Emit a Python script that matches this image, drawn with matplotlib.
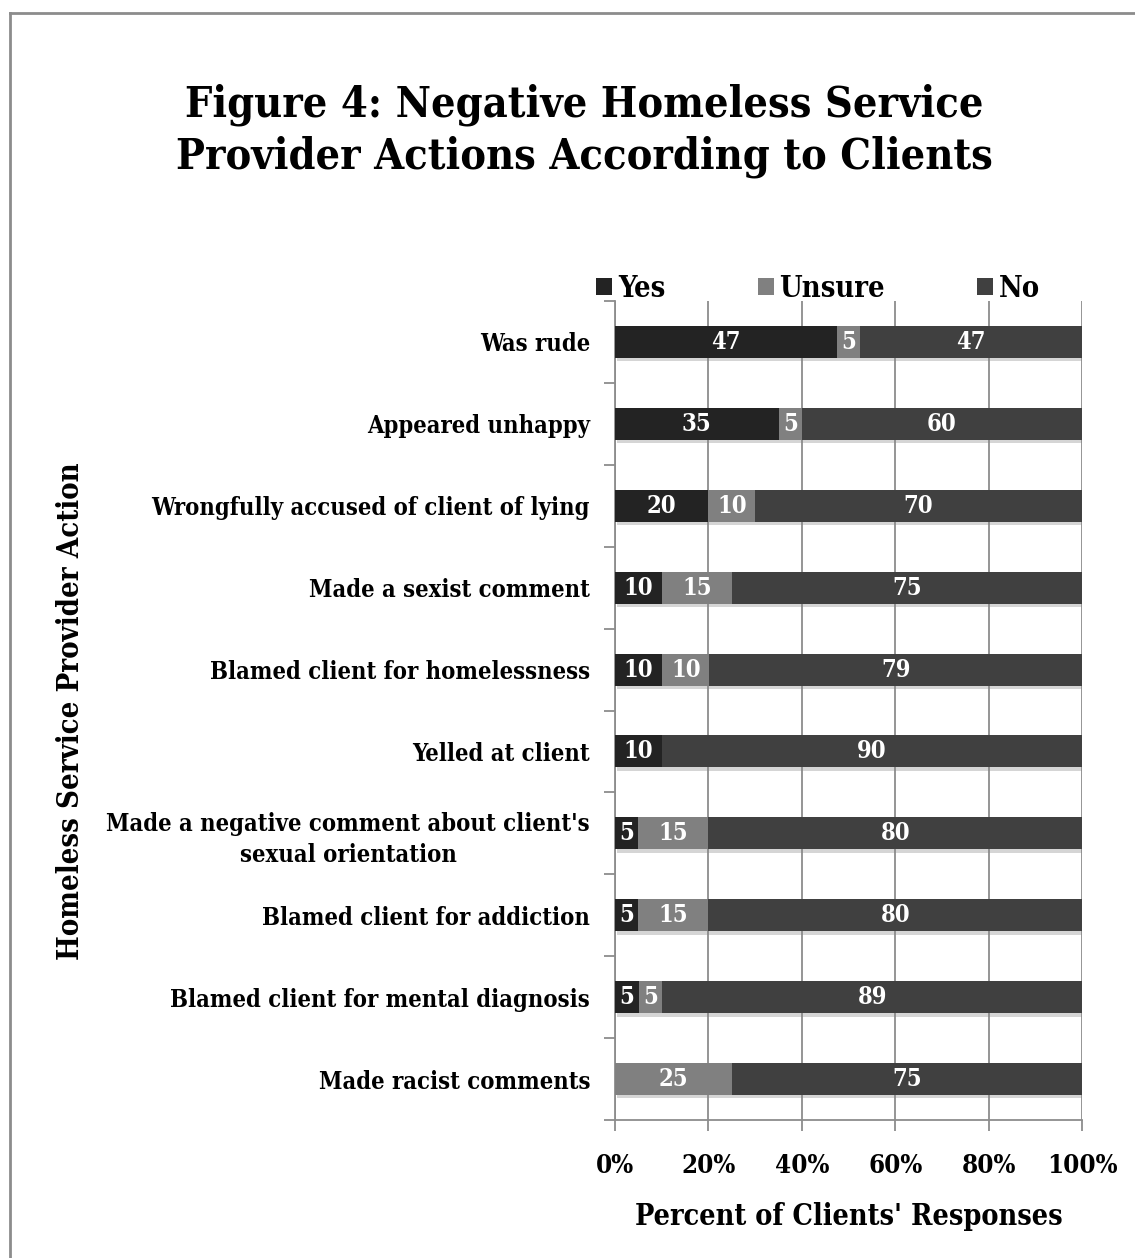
"""Figure 4: stacked 100% bar chart of negative homeless service provider actions."""

import matplotlib.pyplot as plt
import matplotlib.patheffects as pe
from matplotlib.lines import Line2D
from matplotlib.patches import Patch
import numpy as np

actions = [
    "Was rude",
    "Appeared unhappy",
    "Wrongfully accused of client of lying",
    "Made a sexist comment",
    "Blamed client for homelessness",
    "Yelled at client",
    "Made a negative comment about client's\nsexual orientation",
    "Blamed client for addiction",
    "Blamed client for mental diagnosis",
    "Made racist comments",
]
yes = [47, 35, 20, 10, 10, 10, 5, 5, 5, 0]
unsure = [5, 5, 10, 15, 10, 0, 15, 15, 5, 25]
no = [47, 60, 70, 75, 79, 90, 80, 80, 89, 75]

series = [("Yes", yes, "#232323"), ("Unsure", unsure, "#808080"), ("No", no, "#404040")]
grey = "#8c8c8c"

plt.rcParams["font.family"] = ["DejaVu Serif"]
plt.rcParams["font.weight"] = "bold"
plt.rcParams["font.stretch"] = "condensed"

fig = plt.figure(figsize=(11.35, 12.58), dpi=100)
ax = fig.add_axes([0.5419, 0.1097, 0.4115, 0.651])

# grey frame (only top and left edges show)
fig.add_artist(Line2D([0.009, 1.0], [0.9895, 0.9895], color=grey, linewidth=2))
fig.add_artist(Line2D([0.009, 0.009], [0.0, 0.9895], color=grey, linewidth=2))

y = np.arange(len(actions))
totals = np.array(yes) + np.array(unsure) + np.array(no)
shadow = [pe.SimplePatchShadow(offset=(1.5, -2.5), shadow_rgbFace="#888888", alpha=0.35), pe.Normal()]

left = np.zeros(len(actions))
for name, vals, color in series:
    pct = np.array(vals) / totals * 100
    rects = ax.barh(y, pct, left=left, height=0.39, color=color, zorder=3)
    for r in rects:
        r.set_path_effects(shadow)
    for yi, v, p, l in zip(y, vals, pct, left):
        if v > 0:
            ax.text(l + p / 2, yi, str(v), ha="center", va="center", color="white",
                    fontsize=17, fontweight="bold", zorder=4)
    left = left + pct

ax.set_xlim(0, 100)
ax.set_ylim(len(actions) - 0.5, -0.5)
ax.set_xticks(np.arange(0, 101, 20))
ax.set_xticklabels([f"{v}%" for v in range(0, 101, 20)], fontsize=18.5, fontweight="bold")
ax.set_yticks(y)
ax.set_yticklabels(actions, fontsize=17, fontweight="bold", multialignment="center",
                   linespacing=1.4)
ax.set_yticks(np.arange(-0.5, len(actions)), minor=True)
ax.tick_params(axis="y", which="major", length=0, pad=18)
ax.tick_params(axis="y", which="minor", length=8, color=grey, width=1.3)
ax.tick_params(axis="x", length=8, color=grey, width=1.3, pad=16)
ax.grid(axis="x", color=grey, linewidth=1.3, zorder=0)
for s in ["top", "right"]:
    ax.spines[s].set_visible(False)
for s in ["left", "bottom"]:
    ax.spines[s].set_color(grey)
    ax.spines[s].set_linewidth(1.3)

ax.set_xlabel("Percent of Clients' Responses", fontsize=20.6, fontweight="bold", labelpad=17)
fig.text(0.062, 0.435, "Homeless Service Provider Action", rotation=90, ha="center",
         va="center", fontsize=21, fontweight="bold")

handles = [Patch(facecolor=c, label=n) for n, _, c in series]
fig.legend(handles=handles, loc="center", bbox_to_anchor=(0.721, 0.771), ncols=3, frameon=False,
           handlelength=0.55, handleheight=0.55, handletextpad=0.2, columnspacing=3.2,
           prop={"size": 20.8, "weight": "bold", "stretch": "condensed"})

fig.text(0.515, 0.896, "Figure 4: Negative Homeless Service\nProvider Actions According to Clients",
         ha="center", va="center", fontsize=31, fontweight="bold", linespacing=1.3)

fig.savefig("out.png", dpi=100)
